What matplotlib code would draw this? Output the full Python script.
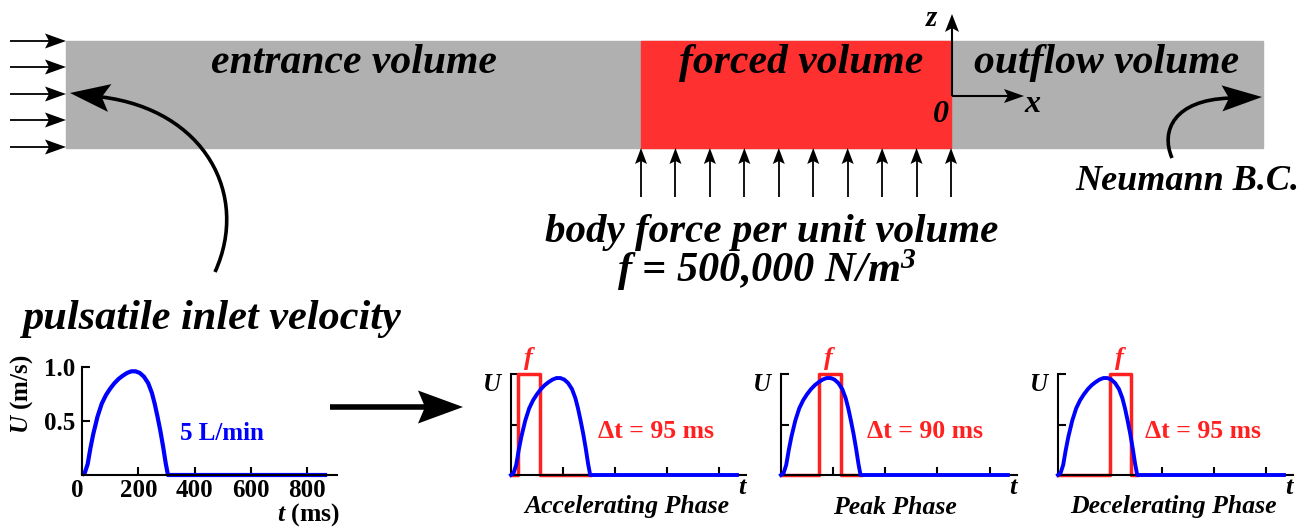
import numpy as np
import matplotlib.pyplot as plt
import matplotlib.transforms as mtransforms
from matplotlib.patches import Rectangle, Polygon, PathPatch
from matplotlib.path import Path

plt.rcParams['font.family'] = 'Liberation Serif'
plt.rcParams['mathtext.fontset'] = 'custom'
plt.rcParams['mathtext.rm'] = 'Liberation Serif:bold:italic'
plt.rcParams['mathtext.it'] = 'Liberation Serif:bold:italic'
plt.rcParams['mathtext.bf'] = 'Liberation Serif:bold'

# inlet velocity waveform, t in ms, U in m/s
t_ms = [0, 10, 20, 30, 40, 55, 70, 85, 100, 115, 130, 145, 160, 175, 190, 205,
        220, 235, 248, 258, 268, 278, 288, 297, 305, 870]
u_ms = [0, 0.02, 0.1, 0.25, 0.38, 0.54, 0.66, 0.74, 0.80, 0.85, 0.89, 0.92, 0.945,
        0.96, 0.96, 0.945, 0.91, 0.85, 0.76, 0.66, 0.54, 0.41, 0.26, 0.11, 0.0, 0.0]

# body force pulse windows (ms)
phase_names = ['Accelerating Phase', 'Peak Phase', 'Decelerating Phase']
pulse_start = [28, 145, 200]
pulse_end = [112, 229, 283]
pulse_labels = ['\u0394t = 95 ms', '\u0394t = 90 ms', '\u0394t = 95 ms']
flow_end = 305

xticks = [0, 200, 400, 600, 800]
yticks = [0.5, 1.0]

W, H = 1310, 528
fig = plt.figure(figsize=(W / 100, H / 100), dpi=100)
base = fig.add_axes([0, 0, 1, 1])
base.set_xlim(0, W)
base.set_ylim(H, 0)
base.axis('off')

bi = dict(weight='bold', style='italic')
BLUE = '#0000ff'
RED = '#ff2020'


def px_axes(l, t, r, b):
    return fig.add_axes([l / W, 1 - b / H, (r - l) / W, (b - t) / H])


def head(tip, d, L, hw, notch):
    # stealth style arrow head, returns the notch point
    tip = np.array(tip, float)
    d = np.array(d, float)
    d = d / np.hypot(*d)
    n = np.array([-d[1], d[0]])
    back = tip - L * d
    nb = tip - (L - notch) * d
    base.add_patch(Polygon([tip, back + hw * n, nb, back - hw * n], closed=True,
                           color='k', lw=0, zorder=4))
    return nb


def arrow(p0, p1, lw, L, hw, notch):
    d = np.array(p1, float) - np.array(p0, float)
    nb = head(p1, d, L, hw, notch)
    base.plot([p0[0], nb[0]], [p0[1], nb[1]], color='k', lw=lw, zorder=3,
              solid_capstyle='butt')


def curved_arrow(p0, c1, c2, tip, lw, L, hw, notch):
    d = np.array(tip, float) - np.array(c2, float)
    nb = head(tip, d, L, hw, notch)
    path = Path([p0, c1, c2, nb], [Path.MOVETO, Path.CURVE4, Path.CURVE4, Path.CURVE4])
    base.add_patch(PathPatch(path, fill=False, lw=lw, color='k', zorder=3))


# ---- channel schematic ----
base.add_patch(Rectangle((66, 41), 1263 - 66, 107, color='#b0b0b0', zorder=1))
base.add_patch(Rectangle((641, 41), 951 - 641, 107, color='#ff3030', zorder=2))

for y in [41, 67, 94, 120, 147]:
    arrow((10, y), (66, y), 1.3, 21, 7.5, 4)

for i in range(10):
    x = 641 + i * (951 - 641) / 9
    arrow((x, 197), (x, 148), 1.3, 16, 6, 3)

curved_arrow((215, 272), (250, 195), (205, 110), (70, 93), 2.6, 40, 14, 8)
curved_arrow((1172, 158), (1160, 130), (1175, 100), (1262, 97), 2.6, 40, 13, 7)

# coordinate axes
arrow((952, 96), (952, 14), 1.5, 18, 7, 4)
arrow((952, 96), (1024, 96), 1.5, 20, 7, 4)
base.text(932, 26, 'z', fontsize=21, ha='center', va='baseline', **bi)
base.text(1032, 112, 'x', fontsize=23, ha='center', va='baseline', **bi)
base.text(941, 122, '0', fontsize=23, ha='center', va='baseline', **bi)

base.text(354, 73, 'entrance volume', fontsize=30, ha='center', va='baseline', **bi)
base.text(801, 73, 'forced volume', fontsize=30, ha='center', va='baseline', **bi)
base.text(1107, 73, 'outflow volume', fontsize=30, ha='center', va='baseline', **bi)
base.text(1187, 190, 'Neumann B.C.', fontsize=26, ha='center', va='baseline', **bi)
base.text(772, 242, 'body force per unit volume', fontsize=29.5, ha='center', va='baseline', **bi)
base.text(767, 282, '$f$ = 500,000 N/m$^3$', fontsize=30.5, ha='center', va='baseline', **bi)
base.text(211, 329, 'pulsatile inlet velocity', fontsize=30.5, ha='center', va='baseline', **bi)

arrow((330, 407), (463, 407), 4, 45, 16.5, 7)


def style_axes(ax):
    for s in ['top', 'right']:
        ax.spines[s].set_visible(False)
    for s in ['left', 'bottom']:
        ax.spines[s].set_linewidth(1.5)
    ax.set_xlim(0, 905)
    ax.set_ylim(0, 1.0)
    ax.tick_params(direction='in', length=6, width=1.5)
    ax.patch.set_alpha(0)


# ---- inlet velocity plot ----
ax = px_axes(82, 367, 337, 475)
style_axes(ax)
ax.plot(t_ms, u_ms, color=BLUE, lw=3, clip_on=False, solid_capstyle='butt')
ax.set_xticks(xticks)
ax.set_xticklabels([str(v) for v in xticks], fontsize=18, weight='bold')
ax.set_yticks(yticks)
ax.set_yticklabels(['0.5', '1.0'], fontsize=18, weight='bold')
ax.tick_params(axis='x', pad=3)
ax.tick_params(axis='y', pad=5)
# the "0" label sits a little left of the axis corner
lab0 = ax.get_xticklabels()[0]
lab0.set_transform(lab0.get_transform() +
                   mtransforms.ScaledTranslation(-0.05, 0, fig.dpi_scale_trans))
base.text(22, 394, '$U$ (m/s)', fontsize=18, weight='bold', rotation=90,
          ha='center', va='center')
base.text(309, 515, '$t$ (ms)', fontsize=18.5, weight='bold', ha='center', va='center')
base.text(222, 433, '5 L/min', fontsize=18, weight='bold', color=BLUE,
          ha='center', va='center')

# ---- phase plots ----
boxes = [(511, 746), (781, 1017), (1058, 1293)]
label_x = [656, 925, 1203]
name_x = [627, 895, 1173]
for k in range(3):
    l, r = boxes[k]
    ax = px_axes(l, 374, r, 475)
    style_axes(ax)
    ts = [0, pulse_start[k], pulse_start[k], pulse_end[k], pulse_end[k], flow_end]
    fs = [0, 0, 1, 1, 0, 0]
    ax.plot(ts, fs, color=RED, lw=2.5, clip_on=False, zorder=2)
    ax.plot(t_ms, u_ms, color=BLUE, lw=2.8, clip_on=False, zorder=3)
    ax.set_xticks(xticks[1:])
    ax.set_xticklabels([])
    ax.set_yticks(yticks)
    ax.set_yticklabels([])
    xp = l + (pulse_start[k] + pulse_end[k]) / 2 * (r - l) / 905
    base.text(xp, 358, '$f$', fontsize=19, color=RED, ha='center', va='center')
    base.text(l - 18, 385, '$U$', fontsize=18, ha='center', va='center')
    base.text(r - 3, 488, '$t$', fontsize=19, ha='center', va='center')
    base.text(label_x[k], 432, pulse_labels[k], fontsize=18.5, weight='bold',
              color=RED, ha='center', va='center')
    base.text(name_x[k], 507, phase_names[k], fontsize=18.5, ha='center',
              va='center', **bi)

fig.savefig('out.png', dpi=100)
